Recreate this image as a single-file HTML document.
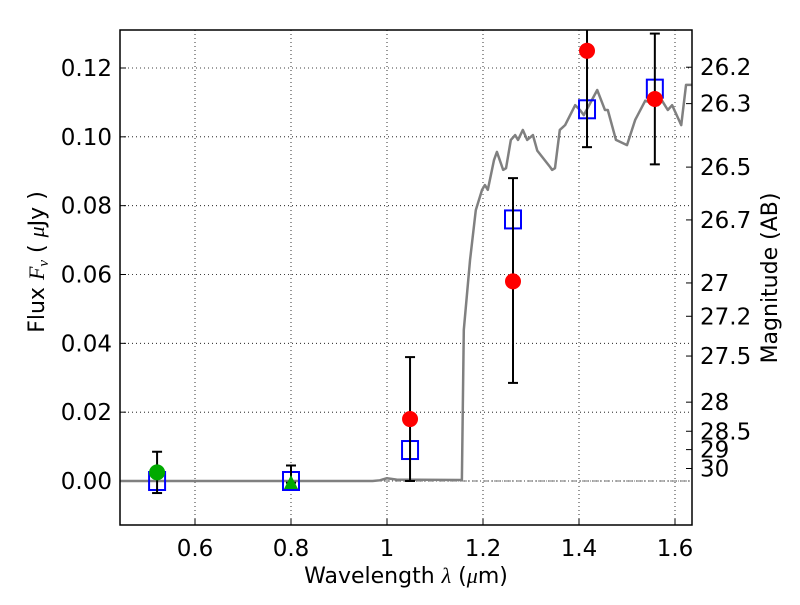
<!DOCTYPE html>
<html><head><meta charset="utf-8"><style>
body{margin:0;background:#fff}
svg text{font-family:"DejaVu Sans","Liberation Sans",sans-serif}
</style></head><body>
<svg id="c" width="800" height="600" viewBox="0 0 800 600"></svg>
<script>
const specLam=[0.44,0.97,0.985,1.0,1.02,1.155,1.156,1.160,1.173,1.185,1.198,1.204,1.210,1.223,1.229,1.242,1.248,1.258,1.267,1.273,1.283,1.292,1.304,1.313,1.340,1.344,1.350,1.360,1.371,1.392,1.402,1.410,1.438,1.454,1.460,1.477,1.500,1.517,1.538,1.565,1.573,1.585,1.594,1.613,1.623,1.635];
const specFlux=[0,0,0.0002,0.0008,0.0004,0.0003,0.0003,0.0439,0.0642,0.0787,0.0846,0.0860,0.0846,0.0933,0.0956,0.0904,0.0909,0.0991,0.1005,0.0991,0.1020,0.0991,0.1005,0.0960,0.0912,0.0904,0.0909,0.1020,0.1034,0.1092,0.1078,0.1063,0.1136,0.1078,0.1078,0.0991,0.0976,0.1049,0.1105,0.1092,0.1105,0.1078,0.1092,0.1034,0.1151,0.1151];
const sqLam=[0.521,0.8,1.048,1.2625,1.4167,1.558];
const sqFlux=[0,0,0.009,0.076,0.108,0.114];
const redLam=[1.048,1.2625,1.4167,1.558];
const redFlux=[0.018,0.058,0.125,0.111];
const redLo=[0,0.0285,0.097,0.092];
const redHi=[0.036,0.088,0.145,0.130];
const greenLam=[0.521];const greenFlux=[0.0025];const greenLo=[-0.0035];const greenHi=[0.0085];
const triLam=[0.8];const triFlux=[0];const triLo=[-0.0005];const triHi=[0.0045];
const xTicks=[0.6,0.8,1.0,1.2,1.4,1.6];const xTickLabels=["0.6","0.8","1","1.2","1.4","1.6"];
const yTicks=[0,0.02,0.04,0.06,0.08,0.1,0.12];const yTickLabels=["0.00","0.02","0.04","0.06","0.08","0.10","0.12"];
const magTicks=[26.2,26.3,26.5,26.7,27,27.2,27.5,28,28.5,29,30];const magLabels=["26.2","26.3","26.5","26.7","27","27.2","27.5","28","28.5","29","30"];

const L=120,R=692,T=30,B=525,FS=23;
const X=v=>195+(v-0.6)*480;
const Y=v=>481-v*3441.7;
const svg=document.getElementById('c');const NS='http://www.w3.org/2000/svg';
function mk(t,a,p){const e=document.createElementNS(NS,t);for(const k in a)e.setAttribute(k,a[k]);(p||svg).appendChild(e);return e;}
const clip=mk('clipPath',{id:'cp'});mk('rect',{x:L,y:T,width:R-L,height:B-T},clip);
xTicks.forEach((t,i)=>{const g=mk('line',{x1:X(t),x2:X(t),y1:T,y2:B,stroke:'#000','stroke-width':0.8,'stroke-dasharray':'1,3'});

mk('line',{x1:X(t),x2:X(t),y1:B,y2:B-6,stroke:'#000'});
const tx=mk('text',{x:X(t),y:B+31,'text-anchor':'middle','font-size':FS});tx.textContent=xTickLabels[i];
});
yTicks.forEach((t,i)=>{const g=mk('line',{x1:L,x2:R,y1:Y(t),y2:Y(t),stroke:'#000','stroke-width':0.8,'stroke-dasharray':'1,3'});

mk('line',{x1:L,x2:L+6,y1:Y(t),y2:Y(t),stroke:'#000'});
const tx=mk('text',{x:L-8,y:Y(t)+8,'text-anchor':'end','font-size':FS});tx.textContent=yTickLabels[i];
});
magTicks.forEach((m,i)=>{const f=Math.pow(10,(23.9-m)/2.5);const y=Y(f);
mk('line',{x1:R,x2:R-6,y1:y,y2:y,stroke:'#000'});
const tx=mk('text',{x:R+8,y:y+8,'font-size':FS});tx.textContent=magLabels[i];
});
const g=mk('g',{'clip-path':'url(#cp)'});
const zl=mk('line',{x1:L,x2:R,y1:Y(0),y2:Y(0),stroke:'#444','stroke-width':0.8,'stroke-dasharray':'6,2,1,2'},g);

const sp=mk('polyline',{points:specLam.map((l,i)=>X(l)+','+Y(specFlux[i])).join(' '),fill:'none',stroke:'#808080','stroke-width':2.5,'stroke-linejoin':'round'},g);

function err(lam,lo,hi){lam.forEach((l,i)=>{const e=mk('g',{},g);

mk('line',{x1:X(l),x2:X(l),y1:Y(lo[i]),y2:Y(hi[i]),stroke:'#000','stroke-width':2},e);
mk('line',{x1:X(l)-5,x2:X(l)+5,y1:Y(lo[i]),y2:Y(lo[i]),stroke:'#000','stroke-width':2},e);
mk('line',{x1:X(l)-5,x2:X(l)+5,y1:Y(hi[i]),y2:Y(hi[i]),stroke:'#000','stroke-width':2},e);});}
sqLam.forEach((l,i)=>{const s=mk('rect',{x:X(l)-8,y:Y(sqFlux[i])-9,width:16,height:18,fill:'none',stroke:'#0000ff','stroke-width':2},g);
});
err(redLam,redLo,redHi);err(greenLam,greenLo,greenHi);err(triLam,triLo,triHi);
redLam.forEach((l,i)=>{const c=mk('circle',{cx:X(l),cy:Y(redFlux[i]),r:8,fill:'#ff0000'},g);
});
greenLam.forEach((l,i)=>{const c=mk('circle',{cx:X(l),cy:Y(greenFlux[i]),r:8,fill:'#00aa00'},g);
});
triLam.forEach((l,i)=>{const x=X(l),y=Y(triFlux[i]);const t=mk('polygon',{points:`${x-7},${y+8} ${x+7},${y+8} ${x},${y-6}`,fill:'#00aa00'},g);
});
const fr=mk('rect',{x:L,y:T,width:R-L,height:B-T,fill:'none',stroke:'#000','stroke-width':1.5});

</script>
<div style="position:absolute;left:0;top:0;width:800px;height:600px;pointer-events:none">
<svg width="800" height="600" style="position:absolute;left:0;top:0">
<text x="406" y="583" text-anchor="middle" font-size="22">Wavelength  <tspan font-family="Liberation Serif" font-style="italic">λ</tspan> (<tspan font-family="Liberation Serif" font-style="italic">μ</tspan>m)</text>
<text transform="translate(44,262) rotate(-90)" text-anchor="middle" font-size="22">Flux  <tspan font-family="Liberation Serif" font-style="italic">F<tspan font-size="15" dy="4">ν</tspan></tspan><tspan dy="-4">  ( </tspan><tspan font-family="Liberation Serif" font-style="italic">μ</tspan>Jy )</text>
<text transform="translate(777,278) rotate(-90)" text-anchor="middle" font-size="22">Magnitude (AB)</text>
</svg></div>
</body></html>
